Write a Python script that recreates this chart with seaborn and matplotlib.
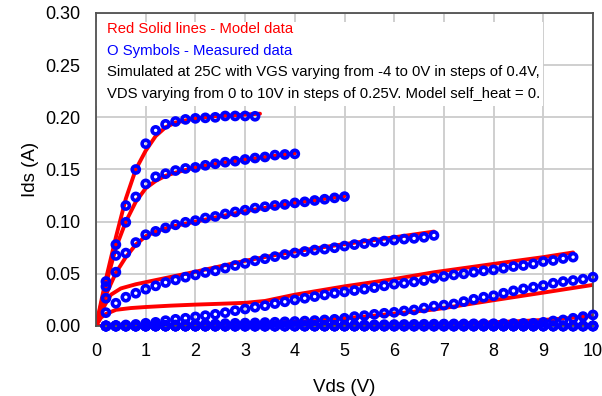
import numpy as np
import pandas as pd
import matplotlib
matplotlib.use("Agg")
import matplotlib.pyplot as plt
import seaborn as sns
from matplotlib.ticker import MultipleLocator, FormatStrFormatter
from matplotlib import font_manager
from matplotlib.patches import Rectangle

# ---------------- data ----------------
vgs_labels = ["0.0", "-0.4", "-0.8", "-1.2", "-1.6", "-2.0", "-2.4", "-2.8", "-3.2", "-3.6", "-4.0"]
meas_step = 0.2  # Vds sweep step of the measured points (V)

meas_1 = [0.0426, 0.078, 0.1154, 0.150, 0.1747, 0.1875, 0.1933, 0.196, 0.198, 0.199,
          0.1995, 0.200, 0.2013, 0.2013, 0.2013, 0.2010]
meas_2 = [0.0378, 0.0676, 0.0994, 0.1237, 0.1362, 0.143, 0.146, 0.149, 0.151, 0.152,
          0.154, 0.1555, 0.157, 0.158, 0.1596, 0.161, 0.162, 0.1638, 0.1644, 0.165]
meas_3 = [0.0266, 0.0516, 0.0699, 0.080, 0.0875, 0.0907, 0.094, 0.097, 0.0994, 0.101,
          0.1035, 0.105, 0.1074, 0.1093, 0.111, 0.113, 0.1143, 0.1155, 0.1165, 0.118,
          0.119, 0.1203, 0.1215, 0.1228, 0.124]
meas_4 = [0.0128, 0.0218, 0.0276, 0.0314, 0.0353, 0.0385, 0.0417, 0.0442, 0.0468, 0.049,
          0.0513, 0.0529, 0.0555, 0.058, 0.060, 0.0625, 0.0645, 0.0665, 0.0685, 0.070,
          0.0714, 0.0728, 0.0737, 0.075, 0.0766, 0.078, 0.079, 0.0804, 0.0814, 0.0824,
          0.0833, 0.084, 0.085, 0.0868]
meas_5 = [0.0, 0.0005, 0.001, 0.0015, 0.0026, 0.0035, 0.0051, 0.0064, 0.0074, 0.0087,
          0.0099, 0.0112, 0.0128, 0.0147, 0.0163, 0.018, 0.0195, 0.0215, 0.0232, 0.025,
          0.0266, 0.0282, 0.0298, 0.0314, 0.0327, 0.034, 0.0353, 0.0368, 0.0385, 0.0401,
          0.041, 0.0423, 0.0436, 0.0458, 0.0475, 0.049, 0.050, 0.0516, 0.0529, 0.0538,
          0.0554, 0.057, 0.058, 0.0596, 0.0618, 0.0628, 0.0647, 0.066]
meas_6 = [0.0, 0.0, 0.0, 0.0, 0.0, 0.0005, 0.0008, 0.001, 0.0013, 0.0015,
          0.0018, 0.002, 0.0023, 0.0026, 0.0028, 0.003, 0.0033, 0.0036, 0.004, 0.0043,
          0.0047, 0.0052, 0.0058, 0.0064, 0.0074, 0.009, 0.0099, 0.0112, 0.0122, 0.0131,
          0.0144, 0.0154, 0.0172, 0.019, 0.020, 0.0211, 0.0234, 0.0256, 0.0276, 0.029,
          0.0314, 0.0337, 0.0356, 0.0372, 0.0388, 0.041, 0.0426, 0.0436, 0.0449, 0.0468]
meas_7 = [0.0, 0.0, 0.0, 0.0, 0.0, 0.0, 0.0, 0.0, 0.0, 0.0,
          0.0, 0.0, 0.0, 0.0, 0.0, 0.0, 0.0, 0.0, 0.0002, 0.0003,
          0.0004, 0.0005, 0.0006, 0.0007, 0.0008, 0.001, 0.0011, 0.0012, 0.0013, 0.0014,
          0.0015, 0.0016, 0.0017, 0.0018, 0.0019, 0.002, 0.002, 0.0021, 0.0022, 0.0022,
          0.0023, 0.0024, 0.0025, 0.0026, 0.0035, 0.0048, 0.0058, 0.0074, 0.009, 0.0106]
meas_zero = [0.0] * 50  # VGS = -2.8 ... -4.0 V, pinched off

model_1_x = [0, 0.2, 0.4, 0.6, 0.8, 1.0, 1.2, 1.4, 1.6, 1.8, 2.0, 2.4, 2.8, 3.3]
model_1_y = [0, 0.045, 0.085, 0.122, 0.150, 0.168, 0.182, 0.1905, 0.195, 0.197, 0.199, 0.201, 0.202, 0.2035]
model_2_x = [0, 0.2, 0.4, 0.6, 0.8, 1.0, 1.2, 1.4, 1.6, 2.0, 2.5, 3.0, 3.5, 4.0]
model_2_y = [0, 0.040, 0.075, 0.100, 0.119, 0.132, 0.139, 0.144, 0.147, 0.152, 0.156, 0.1595, 0.1625, 0.1655]
model_3_x = [0, 0.2, 0.4, 0.6, 0.8, 1.0, 1.2, 1.5, 2.0, 3.0, 4.0, 5.0]
model_3_y = [0, 0.030, 0.051, 0.066, 0.078, 0.086, 0.0905, 0.095, 0.100, 0.110, 0.118, 0.1245]
model_4_x = [0, 0.1, 0.2, 0.3, 0.5, 0.8, 1.1, 1.5, 2.0, 3.0, 4.0, 5.0, 6.0, 6.8]
model_4_y = [0, 0.013, 0.022, 0.030, 0.036, 0.040, 0.043, 0.047, 0.052, 0.0625, 0.0715, 0.0785, 0.0850, 0.0905]
model_5_x = [0, 0.1, 0.2, 0.4, 0.7, 1.0, 1.5, 2.0, 2.5, 3.0, 3.4, 3.7, 4.0, 5.0, 6.0, 6.8, 8.0, 9.0, 9.6]
model_5_y = [0, 0.008, 0.0115, 0.0155, 0.0172, 0.0182, 0.0195, 0.0205, 0.0213, 0.0222, 0.024, 0.027, 0.030,
             0.038, 0.045, 0.0515, 0.0595, 0.066, 0.0705]
model_6_x = [0, 1, 2, 3, 4, 4.5, 5, 5.5, 6, 6.8, 7, 8, 9, 10]
model_6_y = [0, 0.0005, 0.0015, 0.0025, 0.004, 0.0055, 0.0075, 0.0095, 0.0118, 0.0158, 0.0172, 0.0247, 0.032, 0.0394]
model_7_x = [0, 2, 4, 5, 6, 7, 7.5, 8, 8.5, 9, 9.5, 10]
model_7_y = [0, 0.0002, 0.0006, 0.001, 0.0015, 0.0022, 0.0028, 0.0036, 0.0046, 0.0058, 0.0075, 0.0096]
model_zero_x = [0, 10]
model_zero_y = [0, 0]

ann_lines = ["Red Solid lines - Model data",
             "O Symbols - Measured data",
             "Simulated at 25C with VGS varying from -4 to 0V in steps of 0.4V,",
             "VDS varying from 0 to 10V in steps of 0.25V. Model self_heat = 0."]
ann_colors = ["#ff0000", "#0000ff", "black", "black"]

# ---------------- tables ----------------
meas_series = [meas_1, meas_2, meas_3, meas_4, meas_5, meas_6, meas_7,
               meas_zero, meas_zero, meas_zero, meas_zero]
rows = []
for k, ys in enumerate(meas_series):
    for i, v in enumerate(ys):
        rows.append((vgs_labels[k], round(meas_step * (i + 1), 2), v))
meas_df = pd.DataFrame(rows, columns=["vgs", "vds", "ids"])

model_series = [(model_1_x, model_1_y), (model_2_x, model_2_y), (model_3_x, model_3_y),
                (model_4_x, model_4_y), (model_5_x, model_5_y), (model_6_x, model_6_y),
                (model_7_x, model_7_y)] + [(model_zero_x, model_zero_y)] * 4
rows = []
for k, (xs, ys) in enumerate(model_series):
    for xv, yv in zip(xs, ys):
        rows.append((vgs_labels[k], xv, yv))
model_df = pd.DataFrame(rows, columns=["vgs", "vds", "ids"])

# ---------------- style ----------------
sns.set_theme(style="white")
plt.rcParams["font.family"] = ["Liberation Sans", "DejaVu Sans"]


def has_font(name):
    try:
        font_manager.findfont(font_manager.FontProperties(family=name), fallback_to_default=False)
        return True
    except Exception:
        return False


if has_font("Liberation Sans Narrow"):
    ann_family, ann_size = ["Liberation Sans Narrow", "Liberation Sans"], 12.8
else:
    ann_family, ann_size = ["Liberation Sans", "DejaVu Sans"], 10.7

fig = plt.figure(figsize=(6.02, 3.96), dpi=100)
ax = fig.add_axes([96 / 602, 70 / 396, 497 / 602, 313 / 396])

sns.lineplot(data=model_df, x="vds", y="ids", units="vgs", estimator=None, sort=False,
             color="#ff0000", linewidth=2.8, ax=ax, zorder=2, legend=False)
sns.scatterplot(data=meas_df, x="vds", y="ids", marker="o", s=26, color="#0000ff",
                facecolor="none", edgecolor="#0000ff", linewidth=2.6, ax=ax,
                zorder=3, clip_on=False, legend=False)

ax.set_xlim(0, 10)
ax.set_ylim(0, 0.30)
ax.xaxis.set_major_locator(MultipleLocator(1))
ax.xaxis.set_minor_locator(MultipleLocator(0.5))
ax.yaxis.set_major_locator(MultipleLocator(0.05))
ax.yaxis.set_minor_locator(MultipleLocator(0.01))
ax.yaxis.set_major_formatter(FormatStrFormatter("%.2f"))
ax.xaxis.set_major_formatter(FormatStrFormatter("%d"))

ax.set_axisbelow(True)
ax.grid(True, which="major", color="#cccccc", linewidth=1.3)
for side in ["left", "bottom", "right", "top"]:
    ax.spines[side].set_visible(True)
    ax.spines[side].set_color("#505050")
    ax.spines[side].set_linewidth(1.3)

ax.tick_params(axis="both", which="major", direction="out", length=9, width=1.2,
               color="#404040", labelsize=13, labelcolor="black", pad=2)
ax.tick_params(axis="both", which="minor", direction="out", length=4.5, width=1.0,
               color="#404040")
ax.tick_params(axis="x", which="major", pad=3)

ax.set_xlabel("Vds (V)", fontsize=13.5, color="black", labelpad=14)
ax.set_ylabel("Ids (A)", fontsize=13.5, color="black", labelpad=5)

# white background behind annotation text
ax.add_patch(Rectangle((0, 0.703), 0.8994, 0.268, transform=ax.transAxes,
                       facecolor="white", edgecolor="none", zorder=0.8))
ann_y = [0.949, 0.880, 0.810, 0.740]
for txt, col, yy in zip(ann_lines, ann_colors, ann_y):
    ax.text(0.022, yy, txt, transform=ax.transAxes, color=col, fontsize=ann_size,
            family=ann_family, va="center", ha="left", zorder=4)

fig.savefig("out.png", dpi=100)
